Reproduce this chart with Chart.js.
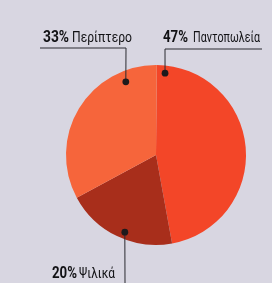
<!DOCTYPE html>
<html>
<head>
<meta charset="utf-8">
<script src="https://cdn.jsdelivr.net/npm/chart.js@4"></script>
<style>
html,body{margin:0;padding:0;background:#d8d6e1;}
#wrap{width:272px;height:283px;position:relative;}
</style>
</head>
<body>
<div id="wrap"><canvas id="c" width="272" height="283"></canvas></div>
<script>
// Data
const categories = ["Παντοπωλεία", "Ψιλικά", "Περίπτερο"];
const shares = [47, 20, 33];

// Styles / layout
const sliceColors = ["#f34628", "#a82e1b", "#f6653b"];
const fontFamily = 'Roboto,"DejaVu Sans",sans-serif';
// leader layout per category: dot angle (deg clockwise from top), dot radius fraction,
// text position, fitted widths of [percent, name], line path
const leaders = [
  {angle: 6.3, rf: 0.915, text: [163, 42], widths: [25, 67], gap: 5, path: [[262, 49], [165, 49]]},
  {angle: 202, rf: 0.925, text: [52, 278], widths: [25, 36], gap: 2, path: [[125, 283]]},
  {angle: 337.6, rf: 0.88, text: [43, 42], widths: [26, 60], gap: 3, path: [[40, 48], [126, 48]]}
];

const labelPlugin = {
  id: 'leaders',
  afterDraw(chart) {
    const ctx = chart.ctx;
    const meta = chart.getDatasetMeta(0);
    const arc0 = meta.data[0];
    const cx = arc0.x, cy = arc0.y, R = arc0.outerRadius;
    ctx.save();
    meta.data.forEach((arc, i) => {
      const L = leaders[i];
      const a = (L.angle - 90) * Math.PI / 180;
      const dx = cx + Math.cos(a) * R * L.rf;
      const dy = cy + Math.sin(a) * R * L.rf;
      // line
      ctx.strokeStyle = '#2a2a30';
      ctx.lineWidth = 1;
      ctx.beginPath();
      ctx.moveTo(L.path[0][0], L.path[0][1]);
      for (let k = 1; k < L.path.length; k++) ctx.lineTo(L.path[k][0], L.path[k][1]);
      ctx.lineTo(dx, dy);
      ctx.stroke();
      // dot
      ctx.fillStyle = '#1e1a1c';
      ctx.beginPath();
      ctx.arc(dx, dy, 3.4, 0, Math.PI * 2);
      ctx.fill();
      // text
      const pct = shares[i] + '%';
      ctx.textBaseline = 'alphabetic';
      ctx.textAlign = 'left';
      ctx.fillStyle = '#111114';
      ctx.font = 'bold 17px ' + fontFamily;
      ctx.fillText(pct, L.text[0], L.text[1], L.widths[0]);
      ctx.font = '15px ' + fontFamily;
      ctx.fillText(categories[i], L.text[0] + L.widths[0] + L.gap, L.text[1], L.widths[1]);
    });
    ctx.restore();
  }
};

new Chart(document.getElementById('c'), {
  type: 'pie',
  data: {
    labels: categories,
    datasets: [{
      data: shares,
      backgroundColor: sliceColors,
      borderWidth: 0,
      hoverOffset: 0
    }]
  },
  options: {
    responsive: false,
    animation: false,
    rotation: 0.5,
    layout: {padding: {left: 66, right: 26, top: 65, bottom: 38}},
    plugins: {legend: {display: false}, tooltip: {enabled: false}}
  },
  plugins: [labelPlugin]
});
</script>
</body>
</html>
